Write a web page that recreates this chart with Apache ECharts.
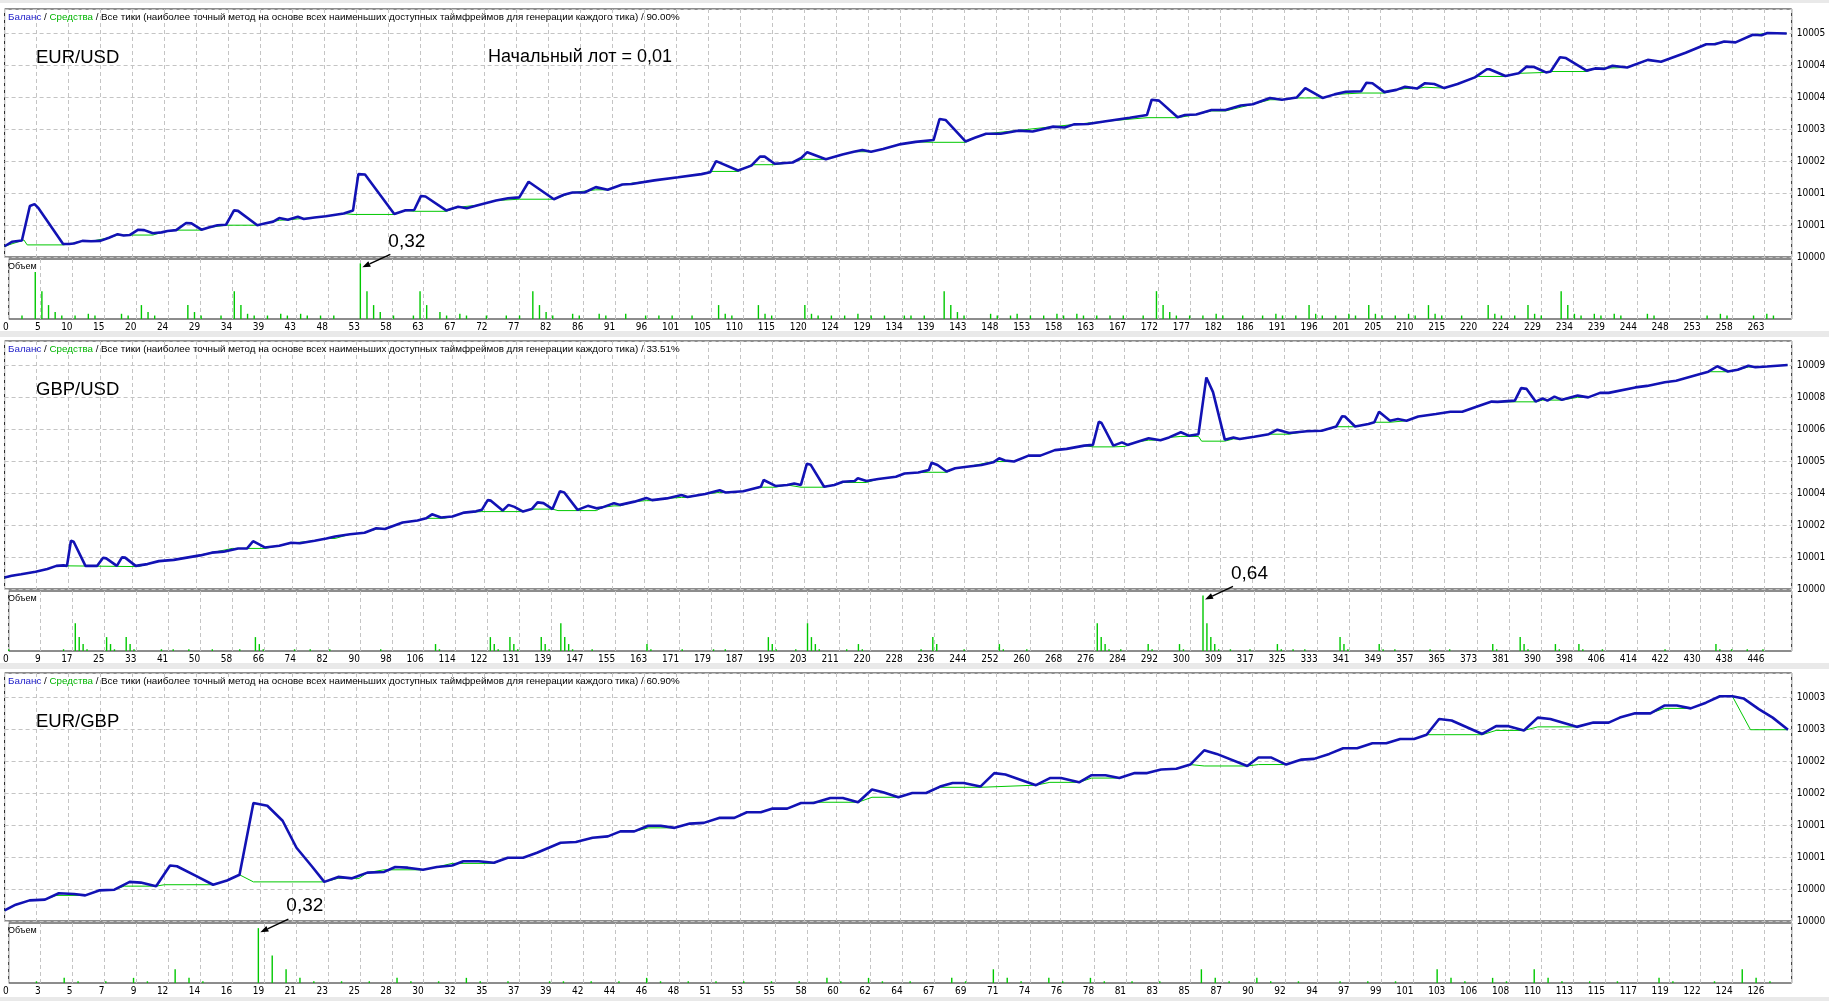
<!DOCTYPE html>
<html>
<head>
<meta charset="utf-8">
<script src="https://cdn.jsdelivr.net/npm/echarts@6/dist/echarts.min.js"></script>
<style>
html,body{margin:0;padding:0;background:#fff;}
#chart{width:1829px;height:1001px;}
</style>
</head>
<body>
<div id="chart"></div>
<script>
// x tick labels (trade numbers) under each volume strip
const eurusdTicks = ['0','5','10','15','20','24','29','34','39','43','48','53','58','63','67','72','77','82','86','91','96','101','105','110','115','120','124','129','134','139','143','148','153','158','163','167','172','177','182','186','191','196','201','205','210','215','220','224','229','234','239','244','248','253','258','263'];
const gbpusdTicks = ['0','9','17','25','33','41','50','58','66','74','82','90','98','106','114','122','131','139','147','155','163','171','179','187','195','203','211','220','228','236','244','252','260','268','276','284','292','300','309','317','325','333','341','349','357','365','373','381','390','398','406','414','422','430','438','446'];
const eurgbpTicks = ['0','3','5','7','9','12','14','16','19','21','23','25','28','30','32','35','37','39','42','44','46','48','51','53','55','58','60','62','64','67','69','71','74','76','78','81','83','85','87','90','92','94','97','99','101','103','106','108','110','113','115','117','119','122','124','126'];

// right-hand balance labels (as printed by the tester, rounded)
const eurusdLevels = ['10000','10001','10001','10002','10003','10004','10004','10005'];
const gbpusdLevels = ['10000','10001','10002','10004','10005','10006','10008','10009'];
const eurgbpLevels = ['10000','10000','10001','10001','10002','10002','10003','10003'];

// EUR/USD
const eurusdBalance = [[0,10000.24],[1.1,10000.34],[2.6,10000.37],[2.9,10000.38],[3.8,10001.14],[4.5,10001.18],[5.1,10001.09],[8.8,10000.29],[9.7,10000.29],[10.4,10000.30],[11.7,10000.36],[13,10000.35],[14.4,10000.36],[15.7,10000.43],[17,10000.51],[17.9,10000.48],[18.8,10000.49],[20.1,10000.61],[21,10000.60],[22.3,10000.53],[23.6,10000.55],[24.5,10000.58],[25.8,10000.60],[27.3,10000.76],[28.1,10000.75],[29.6,10000.61],[30.7,10000.66],[32,10000.71],[33.3,10000.72],[34.5,10001.04],[35.1,10001.03],[38,10000.71],[39.1,10000.75],[40.4,10000.79],[41.3,10000.87],[42.6,10000.83],[44.1,10000.90],[45,10000.85],[46.6,10000.88],[48.3,10000.91],[51,10000.97],[52.4,10001.04],[53.2,10001.85],[54.2,10001.84],[58.6,10000.96],[60.2,10001.04],[61.6,10001.05],[62.6,10001.36],[63.3,10001.35],[66.4,10001.04],[68.2,10001.12],[69.5,10001.09],[71.3,10001.16],[73.9,10001.26],[75.7,10001.31],[77.4,10001.33],[78.8,10001.68],[82.6,10001.29],[84.1,10001.39],[85.4,10001.44],[87.2,10001.44],[88.9,10001.56],[90.7,10001.50],[92.9,10001.62],[94.3,10001.63],[97.7,10001.71],[101.3,10001.78],[104.8,10001.85],[106.1,10001.89],[107,10002.14],[110.3,10001.93],[112.3,10002.04],[113.6,10002.24],[114.3,10002.24],[115.8,10002.08],[118.5,10002.11],[119.8,10002.21],[120.7,10002.34],[123.5,10002.18],[126,10002.29],[127.7,10002.35],[129,10002.39],[130.3,10002.35],[132.1,10002.41],[134.8,10002.52],[137,10002.57],[139.7,10002.61],[140.6,10003.08],[141.5,10003.06],[144.5,10002.58],[145.9,10002.66],[147.6,10002.75],[149.8,10002.75],[152.4,10002.82],[154.6,10002.80],[157.7,10002.91],[159.4,10002.89],[160.8,10002.96],[162.9,10002.97],[165.6,10003.03],[169.2,10003.11],[171.8,10003.17],[172.5,10003.51],[173.6,10003.49],[176.4,10003.12],[177.5,10003.17],[179.2,10003.18],[181.5,10003.28],[183.6,10003.28],[185.9,10003.38],[187.7,10003.41],[190.3,10003.55],[192.1,10003.51],[194.3,10003.56],[195.6,10003.77],[198.2,10003.55],[200,10003.63],[201.7,10003.69],[204,10003.70],[204.8,10003.89],[205.7,10003.88],[207.5,10003.68],[209.3,10003.73],[210.6,10003.80],[212.4,10003.76],[213.6,10003.88],[215,10003.86],[216.5,10003.77],[218.5,10003.86],[221.1,10004.01],[222.9,10004.19],[223.3,10004.19],[225.7,10004.04],[227.7,10004.10],[228.9,10004.25],[230,10004.24],[231.8,10004.12],[232.5,10004.14],[233.9,10004.46],[234.8,10004.44],[237.9,10004.16],[239.2,10004.21],[240.6,10004.20],[241.8,10004.27],[244,10004.23],[247.1,10004.40],[249.1,10004.36],[252.8,10004.56],[255.9,10004.75],[257.2,10004.75],[258.6,10004.81],[260.3,10004.79],[262.9,10004.96],[264.2,10004.95],[265.1,10005.00],[268,10004.99]];
const eurusdEquity = [[0,10000.24],[2.9,10000.38],[3.4,10000.27],[8.8,10000.27],[9.7,10000.29],[11.7,10000.36],[13,10000.35],[15.7,10000.43],[17,10000.49],[22.3,10000.49],[23.6,10000.55],[25.8,10000.60],[29.6,10000.60],[30.7,10000.66],[33.3,10000.71],[38,10000.71],[39.1,10000.75],[40.4,10000.79],[41.3,10000.82],[42.6,10000.83],[44.1,10000.85],[46.6,10000.88],[48.3,10000.91],[51,10000.97],[52.4,10000.95],[58.6,10000.95],[60.2,10001.04],[61.6,10001.02],[66.4,10001.02],[68.2,10001.11],[71.3,10001.16],[73.9,10001.26],[77.4,10001.29],[82.6,10001.29],[85.4,10001.44],[88.9,10001.50],[90.7,10001.50],[92.9,10001.62],[97.7,10001.71],[104.8,10001.85],[106.1,10001.91],[110.3,10001.91],[112.3,10002.06],[115.8,10002.06],[118.5,10002.11],[119.8,10002.18],[123.5,10002.18],[126,10002.29],[127.7,10002.35],[130.3,10002.35],[132.1,10002.41],[134.8,10002.52],[137,10002.57],[139.7,10002.56],[144.5,10002.56],[145.9,10002.66],[147.6,10002.75],[157.7,10002.91],[165.6,10003.03],[171.8,10003.11],[176.4,10003.11],[179.2,10003.18],[181.5,10003.26],[183.6,10003.26],[187.7,10003.41],[190.3,10003.51],[192.1,10003.51],[194.3,10003.55],[198.2,10003.55],[200,10003.63],[204,10003.66],[207.5,10003.66],[209.3,10003.73],[210.6,10003.76],[212.4,10003.76],[213.6,10003.79],[216.5,10003.77],[218.5,10003.86],[221.1,10004.01],[221.6,10004.03],[225.7,10004.03],[227.7,10004.10],[231.8,10004.12],[232.5,10004.14],[237.9,10004.14],[239.2,10004.21],[244,10004.23],[247.1,10004.39],[249.1,10004.36],[252.8,10004.56],[255.9,10004.75],[258.6,10004.79],[260.3,10004.79],[262.9,10004.96],[265.1,10004.99],[268,10004.99]];
const eurusdVolume = [[2,0.02],[4,0.27],[5,0.16],[6,0.08],[7,0.04],[8,0.02],[10,0.02],[12,0.03],[13,0.02],[17,0.03],[18,0.02],[20,0.08],[21,0.04],[22,0.02],[27,0.08],[28,0.04],[29,0.02],[32,0.02],[34,0.16],[35,0.08],[36,0.03],[37,0.02],[39,0.02],[41,0.03],[42,0.02],[44,0.03],[45,0.02],[47,0.02],[49,0.02],[53,0.32],[54,0.16],[55,0.08],[56,0.04],[58,0.02],[61,0.02],[62,0.16],[63,0.08],[65,0.04],[66,0.02],[68,0.03],[69,0.02],[72,0.02],[75,0.02],[77,0.02],[79,0.16],[80,0.08],[81,0.04],[82,0.02],[85,0.03],[86,0.02],[89,0.03],[90,0.02],[93,0.03],[96,0.02],[98,0.02],[100,0.02],[103,0.02],[107,0.08],[108,0.03],[109,0.02],[113,0.08],[114,0.03],[115,0.02],[120,0.08],[121,0.03],[122,0.02],[124,0.02],[126,0.02],[128,0.03],[130,0.02],[132,0.02],[135,0.02],[136,0.02],[138,0.02],[141,0.16],[142,0.08],[143,0.04],[144,0.02],[148,0.03],[149,0.02],[151,0.02],[152,0.03],[154,0.02],[156,0.02],[158,0.03],[159,0.02],[161,0.03],[162,0.02],[164,0.02],[166,0.02],[168,0.02],[171,0.02],[173,0.16],[174,0.08],[175,0.04],[176,0.02],[178,0.02],[180,0.02],[182,0.03],[183,0.02],[186,0.02],[189,0.02],[191,0.03],[192,0.02],[194,0.02],[196,0.08],[197,0.03],[198,0.02],[200,0.02],[202,0.03],[203,0.02],[205,0.08],[206,0.03],[207,0.02],[209,0.02],[211,0.03],[212,0.02],[214,0.08],[215,0.03],[216,0.02],[219,0.02],[223,0.08],[224,0.03],[225,0.02],[227,0.02],[229,0.08],[230,0.03],[231,0.02],[234,0.16],[235,0.08],[236,0.03],[237,0.02],[239,0.03],[240,0.02],[242,0.03],[243,0.02],[247,0.03],[248,0.02],[256,0.02],[258,0.03],[259,0.02],[263,0.02],[265,0.03],[266,0.02]];

// GBP/USD
const gbpusdBalance = [[0,10000.46],[1.8,10000.53],[4.2,10000.59],[7.9,10000.69],[10.9,10000.80],[13.2,10000.93],[15,10000.95],[15.9,10000.93],[16.9,10001.94],[17.6,10001.90],[20.6,10000.93],[23.6,10000.93],[25.1,10001.26],[25.9,10001.23],[28.6,10000.93],[29.9,10001.27],[30.7,10001.26],[33.4,10000.93],[36.4,10001.00],[39.3,10001.12],[43.1,10001.17],[46.8,10001.27],[49.8,10001.35],[52.8,10001.46],[55.8,10001.50],[59.5,10001.63],[61.8,10001.63],[63.3,10001.92],[66.3,10001.67],[70,10001.74],[73,10001.86],[75.2,10001.84],[79,10001.94],[82,10002.03],[84.2,10002.11],[88,10002.20],[91.7,10002.26],[94.7,10002.44],[96.9,10002.41],[101.4,10002.67],[105.2,10002.75],[107.4,10002.84],[108.9,10003.00],[111.2,10002.87],[114.1,10002.91],[117.1,10003.07],[120.1,10003.12],[121.6,10003.18],[123.1,10003.57],[123.9,10003.55],[126.9,10003.15],[128.4,10003.38],[129.9,10003.30],[132.1,10003.11],[134.3,10003.21],[135.8,10003.48],[137.3,10003.45],[139.6,10003.21],[141.5,10003.93],[142.6,10003.88],[146,10003.18],[148.6,10003.34],[150.8,10003.24],[152.3,10003.28],[155.3,10003.45],[156.8,10003.38],[160.5,10003.51],[163.5,10003.66],[165,10003.57],[168.7,10003.64],[172.5,10003.78],[174,10003.70],[178.5,10003.82],[182.2,10003.97],[183.7,10003.88],[188.2,10003.93],[191.2,10004.05],[192.7,10004.11],[193.4,10004.38],[196.4,10004.14],[199.4,10004.18],[201.2,10004.24],[202.9,10004.18],[204.4,10005.03],[205.4,10004.99],[208.8,10004.11],[211.4,10004.18],[213.6,10004.31],[216.6,10004.34],[217.4,10004.45],[219.6,10004.34],[222.6,10004.42],[227.1,10004.51],[229.3,10004.64],[232.8,10004.68],[235.5,10004.78],[236.2,10005.07],[237.7,10004.98],[240,10004.72],[242.2,10004.85],[245.2,10004.91],[248.9,10004.98],[251.9,10005.09],[253.4,10005.25],[254.9,10005.16],[257.2,10005.12],[260.9,10005.36],[263.9,10005.36],[267.6,10005.58],[270.6,10005.63],[275.1,10005.76],[277.3,10005.79],[278.8,10006.72],[279.5,10006.67],[282.5,10005.76],[284.7,10005.89],[286.1,10005.79],[288.5,10005.91],[291.5,10006.06],[294.5,10005.98],[296.7,10006.09],[299.7,10006.30],[301.7,10006.16],[304.2,10006.22],[306.2,10008.50],[307.9,10007.91],[310.9,10006.00],[313.1,10006.09],[314.7,10006.03],[318.4,10006.12],[322.1,10006.22],[324.3,10006.40],[327.3,10006.27],[331.8,10006.34],[335.6,10006.36],[339.3,10006.53],[340.8,10006.94],[341.5,10006.93],[344.1,10006.53],[347.5,10006.63],[349,10006.70],[350.2,10007.12],[353,10006.76],[355,10006.83],[357.2,10006.76],[360.2,10006.93],[364.7,10007.03],[368.4,10007.12],[371.4,10007.12],[375.2,10007.33],[378.9,10007.53],[380.4,10007.52],[384.8,10007.57],[386.4,10008.07],[387.8,10008.04],[390.1,10007.53],[391.9,10007.66],[393.1,10007.57],[394.9,10007.73],[396.8,10007.60],[400.8,10007.77],[403.5,10007.70],[406.5,10007.88],[408.7,10007.88],[415.5,10008.10],[418.5,10008.16],[423,10008.31],[425.9,10008.37],[431.1,10008.60],[434.1,10008.73],[436.4,10008.95],[439.1,10008.74],[441.6,10008.81],[444.3,10008.97],[446.1,10008.91],[449,10008.94],[454.3,10009.00]];
const gbpusdEquity = [[0,10000.46],[4.2,10000.59],[7.9,10000.69],[10.9,10000.80],[13.2,10000.93],[15.9,10000.93],[16.2,10000.90],[34.1,10000.90],[36.4,10001.00],[39.3,10001.12],[43.1,10001.17],[46.8,10001.27],[52.8,10001.46],[58,10001.63],[66.3,10001.63],[70,10001.74],[73,10001.84],[79,10001.94],[82,10002.03],[84.2,10002.03],[88,10002.20],[91.7,10002.26],[94.7,10002.41],[96.9,10002.41],[101.4,10002.67],[105.2,10002.75],[107.4,10002.84],[111.9,10002.84],[114.1,10002.91],[117.1,10003.07],[121.6,10003.11],[132.1,10003.11],[134.3,10003.21],[139.6,10003.21],[141,10003.15],[150.8,10003.15],[152.3,10003.28],[155.3,10003.34],[156.8,10003.34],[160.5,10003.51],[163.5,10003.55],[165,10003.55],[168.7,10003.64],[172.5,10003.68],[174,10003.68],[178.5,10003.82],[182.2,10003.88],[183.7,10003.88],[188.2,10003.93],[192.7,10004.09],[196.4,10004.09],[199.4,10004.18],[202.9,10004.09],[208.8,10004.09],[211.4,10004.18],[213.6,10004.28],[219.6,10004.28],[222.6,10004.42],[227.1,10004.51],[229.3,10004.64],[232.8,10004.68],[235.5,10004.69],[240,10004.69],[242.2,10004.85],[245.2,10004.91],[251.9,10005.12],[257.2,10005.12],[260.9,10005.36],[263.9,10005.36],[267.6,10005.58],[270.6,10005.63],[275.1,10005.76],[277.3,10005.71],[282.5,10005.71],[285.5,10005.73],[288.5,10005.91],[291.5,10005.98],[294.5,10005.98],[296.7,10006.09],[299.7,10006.13],[304.2,10006.13],[305,10005.94],[310.9,10005.94],[313.1,10006.03],[314.7,10006.03],[318.4,10006.12],[322.1,10006.22],[327.3,10006.22],[331.8,10006.34],[335.6,10006.36],[339.3,10006.52],[344.1,10006.52],[347.5,10006.63],[349,10006.70],[353,10006.70],[357.2,10006.76],[360.2,10006.93],[364.7,10007.03],[368.4,10007.12],[371.4,10007.12],[375.2,10007.33],[378.9,10007.52],[390.1,10007.52],[391.9,10007.59],[396.8,10007.59],[400.8,10007.70],[403.5,10007.70],[406.5,10007.87],[408.7,10007.87],[415.5,10008.10],[418.5,10008.16],[423,10008.31],[425.9,10008.37],[431.1,10008.60],[434.1,10008.73],[439.1,10008.73],[441.6,10008.81],[444.3,10008.92],[446.1,10008.91],[449,10008.94],[454.3,10009.00]];
const gbpusdVolume = [[0,0.02],[14,0.02],[17,0.32],[18,0.16],[19,0.08],[20,0.02],[25,0.16],[26,0.08],[27,0.02],[30,0.16],[31,0.08],[32,0.02],[39,0.02],[42,0.02],[46,0.02],[52,0.02],[59,0.02],[63,0.16],[64,0.08],[65,0.02],[73,0.02],[77,0.02],[82,0.02],[95,0.02],[109,0.08],[110,0.02],[123,0.16],[124,0.08],[125,0.02],[128,0.16],[129,0.08],[130,0.02],[136,0.16],[137,0.08],[138,0.02],[141,0.32],[142,0.16],[143,0.08],[144,0.02],[149,0.02],[163,0.08],[164,0.02],[172,0.02],[180,0.02],[183,0.02],[194,0.16],[195,0.08],[196,0.02],[201,0.02],[204,0.32],[205,0.16],[206,0.08],[207,0.02],[214,0.02],[217,0.08],[218,0.02],[233,0.02],[236,0.16],[237,0.08],[244,0.02],[253,0.08],[254,0.02],[260,0.02],[278,0.32],[279,0.16],[280,0.08],[281,0.02],[284,0.02],[291,0.08],[292,0.02],[299,0.08],[300,0.02],[305,0.64],[306,0.32],[307,0.16],[308,0.08],[309,0.02],[312,0.02],[317,0.02],[324,0.08],[325,0.02],[328,0.02],[331,0.02],[340,0.16],[341,0.08],[342,0.02],[350,0.08],[351,0.02],[354,0.02],[363,0.02],[368,0.02],[379,0.08],[380,0.02],[386,0.16],[387,0.08],[388,0.02],[395,0.08],[396,0.02],[401,0.08],[402,0.02],[407,0.02],[423,0.02],[436,0.08],[437,0.02],[440,0.02],[444,0.02],[448,0.02]];

// EUR/GBP
const eurgbpBalance = [[0,10000.15],[0.8,10000.23],[1.8,10000.29],[2.9,10000.30],[3.9,10000.39],[5,10000.38],[5.8,10000.36],[6.8,10000.43],[7.9,10000.44],[9,10000.55],[9.8,10000.54],[10.9,10000.49],[11.9,10000.78],[12.4,10000.77],[13.8,10000.63],[15,10000.51],[16,10000.57],[16.9,10000.65],[17.9,10001.66],[18.9,10001.62],[20,10001.41],[21,10001.03],[22.1,10000.77],[23,10000.55],[24,10000.62],[25,10000.60],[26.1,10000.68],[27.3,10000.69],[28.1,10000.76],[29,10000.75],[30.1,10000.72],[31.1,10000.76],[32.2,10000.78],[33,10000.84],[34.1,10000.84],[35.2,10000.82],[36.2,10000.89],[37.3,10000.89],[38.3,10000.96],[40,10001.10],[41.1,10001.11],[42.3,10001.17],[43.4,10001.19],[44.3,10001.26],[45.3,10001.26],[46.3,10001.34],[47.2,10001.34],[48.2,10001.31],[49.3,10001.37],[50.3,10001.38],[51.4,10001.45],[52.5,10001.45],[53.4,10001.53],[54.4,10001.53],[55.2,10001.58],[56.3,10001.58],[57.3,10001.66],[58.2,10001.66],[59.4,10001.73],[60.3,10001.73],[61.4,10001.67],[62.4,10001.85],[63.2,10001.81],[64.3,10001.74],[65.3,10001.80],[66.3,10001.80],[67.3,10001.89],[68.2,10001.94],[69,10001.94],[70.2,10001.89],[71.2,10002.08],[72,10002.06],[74.2,10001.91],[75.2,10002.01],[76,10002.01],[77.3,10001.95],[78.2,10002.05],[79.2,10002.05],[80.2,10002.01],[81.3,10002.08],[82.2,10002.08],[83.2,10002.13],[84.3,10002.14],[85.3,10002.20],[86.3,10002.40],[87.2,10002.35],[89.4,10002.18],[90.2,10002.30],[91.1,10002.30],[92.2,10002.20],[93.3,10002.27],[94.2,10002.28],[95.3,10002.35],[96.3,10002.43],[97.3,10002.43],[98.4,10002.50],[99.4,10002.50],[100.4,10002.56],[101.4,10002.56],[102.3,10002.62],[103.2,10002.84],[104.1,10002.82],[106.3,10002.63],[107.3,10002.74],[108.2,10002.74],[109.3,10002.68],[110.3,10002.86],[111.2,10002.84],[113.1,10002.73],[114.3,10002.79],[115.4,10002.79],[116.2,10002.86],[117.3,10002.92],[118.4,10002.92],[119.4,10003.03],[120.3,10003.03],[121.3,10002.99],[122.4,10003.07],[123.4,10003.16],[124.3,10003.16],[125.1,10003.13],[126.2,10002.98],[127.2,10002.86],[128.3,10002.69]];
const eurgbpEquity = [[0,10000.15],[0.8,10000.23],[1.8,10000.29],[2.9,10000.30],[3.7,10000.36],[5.8,10000.36],[6.8,10000.43],[7.9,10000.44],[8.6,10000.49],[10.9,10000.49],[11.5,10000.51],[15,10000.51],[16,10000.57],[16.9,10000.65],[17.9,10000.55],[23,10000.55],[24,10000.60],[25.5,10000.60],[26.1,10000.68],[27.3,10000.72],[30.1,10000.72],[31.1,10000.76],[32.2,10000.81],[35.2,10000.81],[36.2,10000.89],[37.3,10000.89],[38.3,10000.96],[40,10001.10],[41.1,10001.11],[42.3,10001.17],[43.4,10001.19],[44.3,10001.26],[45.3,10001.26],[46.3,10001.31],[48.2,10001.31],[49.3,10001.37],[50.3,10001.38],[51.4,10001.45],[52.5,10001.45],[53.4,10001.53],[54.4,10001.53],[55.2,10001.58],[56.3,10001.58],[57.3,10001.66],[58.2,10001.67],[61.4,10001.67],[62.4,10001.74],[64.3,10001.74],[65.3,10001.80],[66.3,10001.80],[67.3,10001.88],[70.2,10001.88],[74.2,10001.91],[75.2,10001.95],[77.3,10001.95],[78.2,10002.01],[80.2,10002.01],[81.3,10002.08],[82.2,10002.08],[83.2,10002.13],[84.3,10002.14],[85.3,10002.20],[86.3,10002.18],[89.4,10002.18],[90.2,10002.20],[92.2,10002.20],[93.3,10002.27],[94.2,10002.28],[95.3,10002.35],[96.3,10002.43],[97.3,10002.43],[98.4,10002.50],[99.4,10002.50],[100.4,10002.56],[101.4,10002.56],[102.3,10002.62],[106.3,10002.62],[107.3,10002.68],[109.3,10002.68],[110.3,10002.73],[113.1,10002.73],[114.3,10002.79],[115.4,10002.79],[116.2,10002.86],[117.3,10002.92],[118.4,10002.92],[119.4,10002.99],[121.3,10002.99],[122.4,10003.07],[123.4,10003.16],[124.3,10003.16],[125.6,10002.69],[128.3,10002.69]];
const eurgbpVolume = [[2,0.01],[4,0.03],[5,0.01],[7,0.01],[9,0.03],[10,0.01],[12,0.08],[13,0.03],[14,0.01],[18,0.32],[19,0.16],[20,0.08],[21,0.03],[22,0.01],[24,0.01],[26,0.01],[28,0.03],[29,0.01],[31,0.01],[33,0.03],[34,0.01],[36,0.01],[39,0.01],[40,0.01],[42,0.01],[44,0.01],[46,0.03],[47,0.01],[49,0.01],[51,0.01],[53,0.01],[55,0.01],[57,0.01],[59,0.03],[60,0.01],[62,0.03],[63,0.01],[65,0.01],[68,0.03],[69,0.01],[71,0.08],[72,0.03],[73,0.01],[75,0.03],[76,0.01],[78,0.03],[79,0.01],[81,0.01],[83,0.01],[86,0.08],[87,0.03],[88,0.01],[90,0.03],[91,0.01],[93,0.01],[96,0.01],[98,0.01],[100,0.01],[103,0.08],[104,0.03],[105,0.01],[107,0.03],[108,0.01],[110,0.08],[111,0.03],[112,0.01],[114,0.01],[116,0.01],[119,0.03],[120,0.01],[123,0.01],[125,0.08],[126,0.03],[127,0.01]];

window.addEventListener('load', function () {
    let chart = echarts.init(document.getElementById('chart'));
    const narrow = "'Liberation Sans Narrow','DejaVu Sans Condensed','Liberation Sans',sans-serif";
    const sans = "'Liberation Sans',Arial,sans-serif";
    const dash = {show: true, lineStyle: {color: '#c4c4c4', type: [4, 3], width: 1}};

    let panels = [
        {pair: 'EUR/USD', quality: '90.00%', top: 9, balance: eurusdBalance, equity: eurusdEquity, volume: eurusdVolume,
         ticks: eurusdTicks, levels: eurusdLevels, yStep: 5 / 7, xStep: 4.812, volMax: 0.345, peak: [53, 0.32], peakText: '0,32'},
        {pair: 'GBP/USD', quality: '33.51%', top: 341, balance: gbpusdBalance, equity: gbpusdEquity, volume: gbpusdVolume,
         ticks: gbpusdTicks, levels: gbpusdLevels, yStep: 9 / 7, xStep: 8.153, volMax: 0.691, peak: [305, 0.64], peakText: '0,64'},
        {pair: 'EUR/GBP', quality: '60.90%', top: 673, balance: eurgbpBalance, equity: eurgbpEquity, volume: eurgbpVolume,
         ticks: eurgbpTicks, levels: eurgbpLevels, yStep: 0.45, xStep: 2.302, volMax: 0.35, peak: [18, 0.32], peakText: '0,32'}
    ];

    function pick(arr, lo, step) {
        return function (v) {
            let k = (v - lo) / step;
            let r = Math.round(k);
            return (Math.abs(k - r) < 1e-6 && arr[r] !== undefined) ? arr[r] : '';
        };
    }

    let option = {animation: false, backgroundColor: '#fff', grid: [], xAxis: [], yAxis: [], series: []};

    panels.forEach((p, i) => {
        let xMax = p.xStep * 55.85;
        option.grid.push({left: 4.6, right: 37.3, top: p.top, height: 248, show: true, borderColor: '#1a1a1a', borderWidth: 1, backgroundColor: '#fff'});
        option.grid.push({left: 4.6, right: 37.3, top: p.top + 250, height: 60, show: true, borderColor: '#1a1a1a', borderWidth: 1, backgroundColor: '#fff'});
        option.xAxis.push({type: 'value', gridIndex: 2 * i, min: 0, max: xMax, interval: p.xStep,
            axisLine: {show: false}, axisTick: {show: false}, axisLabel: {show: false}, splitLine: dash});
        option.xAxis.push({type: 'value', gridIndex: 2 * i + 1, min: 0, max: xMax, interval: p.xStep,
            axisLine: {show: false}, axisTick: {show: false}, splitLine: dash,
            axisLabel: {formatter: pick(p.ticks, 0, p.xStep), align: 'right', margin: 3, fontSize: 10, fontFamily: narrow, color: '#000'}});
        option.yAxis.push({type: 'value', gridIndex: 2 * i, position: 'right', min: 10000, max: 10000 + 7.75 * p.yStep, interval: p.yStep,
            axisLine: {show: false}, axisTick: {show: false}, splitLine: dash,
            axisLabel: {formatter: pick(p.levels, 10000, p.yStep), margin: 5, fontSize: 10, fontFamily: narrow, color: '#000'}});
        option.yAxis.push({type: 'value', gridIndex: 2 * i + 1, min: 0, max: p.volMax,
            axisLine: {show: false}, axisTick: {show: false}, axisLabel: {show: false}, splitLine: {show: false}});
        option.series.push({name: 'Средства', type: 'line', xAxisIndex: 2 * i, yAxisIndex: 2 * i, data: p.equity,
            showSymbol: false, symbol: 'none', lineStyle: {color: '#00c800', width: 1}, z: 2});
        option.series.push({name: 'Баланс', type: 'line', xAxisIndex: 2 * i, yAxisIndex: 2 * i, data: p.balance,
            showSymbol: false, symbol: 'none', lineStyle: {color: '#1212b4', width: 2.6}, z: 3});
        option.series.push({name: 'Объем', type: 'bar', xAxisIndex: 2 * i + 1, yAxisIndex: 2 * i + 1, data: p.volume,
            barWidth: 1.4, itemStyle: {color: '#00c800'}, z: 2});
    });

    chart.setOption(option);

    // texts, separators and the lot-size callouts
    let graphic = [];
    [[0, 3], [331, 6], [663, 6], [997, 4]].forEach(b => {
        graphic.push({type: 'rect', shape: {x: 0, y: b[0], width: 1829, height: b[1]}, style: {fill: '#e9e9e9'}, z: 100});
    });
    panels.forEach((p, i) => {
        graphic.push({type: 'text', x: 8, y: p.top + 8, z: 100, style: {
            text: '{b|Баланс} / {g|Средства} / Все тики (наиболее точный метод на основе всех наименьших доступных таймфреймов для генерации каждого тика) / ' + p.quality,
            fontSize: 9.8, fontFamily: sans, fill: '#000', verticalAlign: 'middle',
            rich: {b: {fill: '#1a1ac8', fontSize: 9.8, fontFamily: sans}, g: {fill: '#00b400', fontSize: 9.8, fontFamily: sans}}}});
        graphic.push({type: 'text', x: 36, y: p.top + 49, z: 100, style: {text: p.pair, fontSize: 18.5, fontFamily: sans, fill: '#000', verticalAlign: 'middle'}});
        graphic.push({type: 'text', x: 8, y: p.top + 258, z: 100, style: {text: 'Объем', fontSize: 9, fontFamily: sans, fill: '#000', verticalAlign: 'middle'}});

        let pt = chart.convertToPixel({xAxisIndex: 2 * i + 1, yAxisIndex: 2 * i + 1}, p.peak);
        let tip = [pt[0] + 2, pt[1] + 4];
        let tail = [tip[0] + 28, tip[1] - 13];
        let dx = tip[0] - tail[0], dy = tip[1] - tail[1], len = Math.sqrt(dx * dx + dy * dy);
        let ux = dx / len, uy = dy / len, nx = -uy, ny = ux;
        let bx = tip[0] - 8 * ux, by = tip[1] - 8 * uy;
        graphic.push({type: 'line', z: 100, shape: {x1: tail[0], y1: tail[1], x2: bx, y2: by}, style: {stroke: '#000', lineWidth: 1.4}});
        graphic.push({type: 'polygon', z: 100, shape: {points: [tip, [bx + 3 * nx, by + 3 * ny], [bx - 3 * nx, by - 3 * ny]]}, style: {fill: '#000'}});
        graphic.push({type: 'text', x: tip[0] + 26, y: tip[1] - 26, z: 100, style: {text: p.peakText, fontSize: 19, fontFamily: sans, fill: '#000', verticalAlign: 'middle'}});
    });
    graphic.push({type: 'text', x: 488, y: 57, z: 100, style: {text: 'Начальный лот = 0,01', fontSize: 18, fontFamily: sans, fill: '#000', verticalAlign: 'middle'}});

    chart.setOption({graphic: graphic});
});
</script>
</body>
</html>
